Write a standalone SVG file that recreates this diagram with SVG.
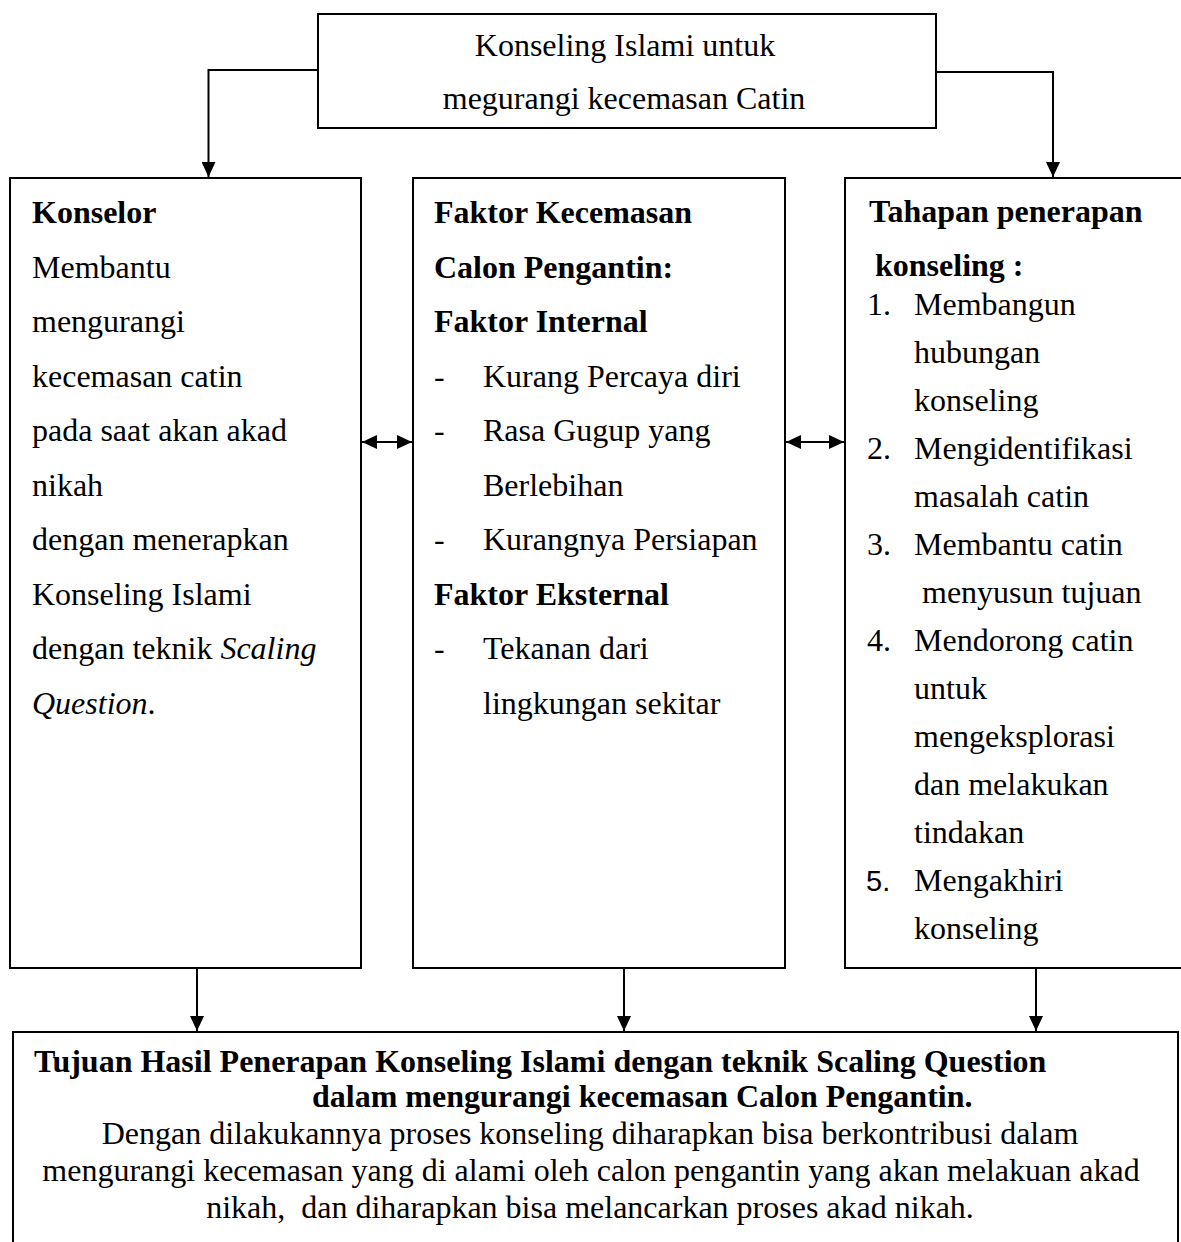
<svg xmlns="http://www.w3.org/2000/svg" width="1181" height="1242" viewBox="0 0 1181 1242">
<style>
.box{fill:#fff;stroke:#000;stroke-width:2}
.con{fill:none;stroke:#000;stroke-width:2}
text{font-family:"Liberation Serif","Times New Roman",serif;font-size:32px;fill:#000}
.b{font-weight:bold}
.i{font-style:italic}
.c{text-anchor:middle}
.sans{font-family:"Liberation Sans",Arial,sans-serif;font-size:29px}
.pre{white-space:pre}
</style>
<defs>
<marker id="ah" markerUnits="userSpaceOnUse" markerWidth="16" markerHeight="14" refX="15" refY="7" orient="auto-start-reverse">
<path d="M0,0 L15,7 L0,14 Z" fill="#000"/>
</marker>
</defs>
<rect width="1181" height="1242" fill="#fff"/>

<g id="connectors">
<path class="con" d="M318,70 H208.5 V177" marker-end="url(#ah)"/>
<path class="con" d="M936,72 H1053 V177" marker-end="url(#ah)"/>
<path class="con" d="M362,442 H412" marker-start="url(#ah)" marker-end="url(#ah)"/>
<path class="con" d="M786,442 H844" marker-start="url(#ah)" marker-end="url(#ah)"/>
<path class="con" d="M197,968 V1031" marker-end="url(#ah)"/>
<path class="con" d="M624,968 V1031" marker-end="url(#ah)"/>
<path class="con" d="M1036,968 V1031" marker-end="url(#ah)"/>
</g>

<g id="top">
<rect class="box" x="318" y="14" width="618" height="114"/>
<text class="c" x="625" y="56">Konseling Islami untuk</text>
<text class="c" x="624" y="109">megurangi kecemasan Catin</text>
</g>

<g id="konselor">
<rect class="box" x="10" y="178" width="351" height="790"/>
<text x="32" y="223" class="b">Konselor</text>
<text x="32" y="277.5">Membantu</text>
<text x="32" y="332">mengurangi</text>
<text x="32" y="386.5">kecemasan catin</text>
<text x="32" y="441">pada saat akan akad</text>
<text x="32" y="495.5">nikah</text>
<text x="32" y="550">dengan menerapkan</text>
<text x="32" y="604.5">Konseling Islami</text>
<text x="32" y="659">dengan teknik <tspan class="i">Scaling</tspan></text>
<text x="32" y="713.5"><tspan class="i">Question</tspan>.</text>
</g>

<g id="faktor">
<rect class="box" x="413" y="178" width="372" height="790"/>
<text x="434" y="223" class="b">Faktor Kecemasan</text>
<text x="434" y="277.5" class="b">Calon Pengantin:</text>
<text x="434" y="332" class="b">Faktor Internal</text>
<text x="434" y="386.5">-</text><text x="483" y="386.5">Kurang Percaya diri</text>
<text x="434" y="441">-</text><text x="483" y="441">Rasa Gugup yang</text>
<text x="483" y="495.5">Berlebihan</text>
<text x="434" y="550">-</text><text x="483" y="550">Kurangnya Persiapan</text>
<text x="434" y="604.5" class="b">Faktor Eksternal</text>
<text x="434" y="659">-</text><text x="483" y="659">Tekanan dari</text>
<text x="483" y="713.5">lingkungan sekitar</text>
</g>

<g id="tahapan">
<rect class="box" x="845" y="178" width="400" height="790"/>
<text x="869" y="222" class="b">Tahapan penerapan</text>
<text x="875" y="276" class="b">konseling :</text>
<text x="867" y="315">1.</text><text x="914" y="315">Membangun</text>
<text x="914" y="363">hubungan</text>
<text x="914" y="411">konseling</text>
<text x="867" y="459">2.</text><text x="914" y="459">Mengidentifikasi</text>
<text x="914" y="507">masalah catin</text>
<text x="867" y="555">3.</text><text x="914" y="555">Membantu catin</text>
<text x="922" y="603">menyusun tujuan</text>
<text x="867" y="651">4.</text><text x="914" y="651">Mendorong catin</text>
<text x="914" y="699">untuk</text>
<text x="914" y="747">mengeksplorasi</text>
<text x="914" y="795">dan melakukan</text>
<text x="914" y="843">tindakan</text>
<text x="866" y="891" class="sans">5.</text><text x="914" y="891">Mengakhiri</text>
<text x="914" y="939">konseling</text>
</g>

<g id="tujuan">
<rect class="box" x="13" y="1032" width="1165" height="300"/>
<text x="34" y="1072" class="b">Tujuan Hasil Penerapan Konseling Islami dengan teknik Scaling Question</text>
<text x="312" y="1107" class="b">dalam mengurangi kecemasan Calon Pengantin.</text>
<text x="590" y="1144" class="c">Dengan dilakukannya proses konseling diharapkan bisa berkontribusi dalam</text>
<text x="591" y="1181" class="c">mengurangi kecemasan yang di alami oleh calon pengantin yang akan melakuan akad</text>
<text x="590" y="1218" class="c pre">nikah,  dan diharapkan bisa melancarkan proses akad nikah.</text>
</g>
</svg>
